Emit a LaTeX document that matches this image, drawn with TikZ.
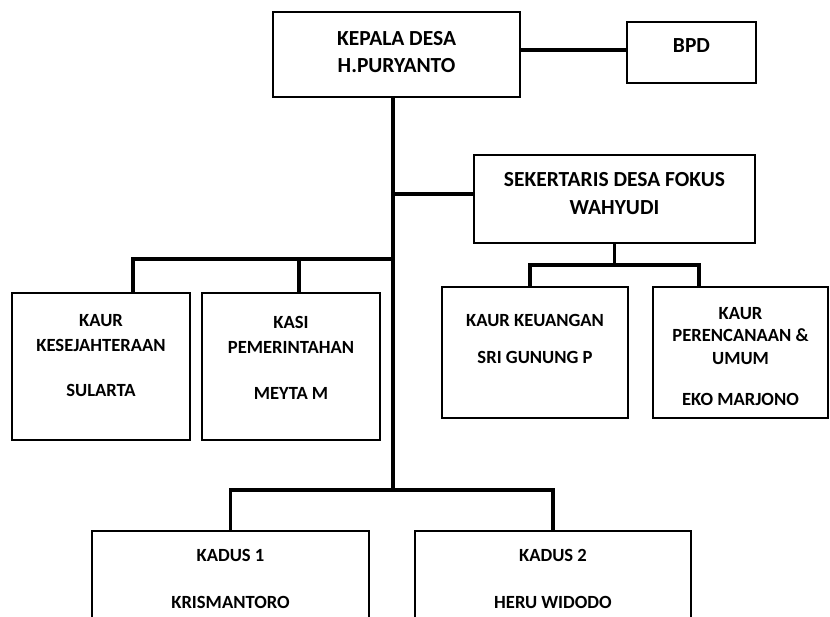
\documentclass[tikz,border=0pt]{standalone}
\usepackage{fontspec}
\setmainfont{Carlito}
\usepackage{tikz}
\usetikzlibrary{positioning}
\tikzstyle{unit} = [rectangle,
draw=black,
line width=2pt,
inner sep=0pt,
font=\fontsize{18.6}{25}\selectfont\bfseries]
\tikzstyle{head} = [unit,
font=\fontsize{21.5}{27}\selectfont\bfseries]
\tikzstyle{link} = [line width=3.2pt]
% box text: width, height, top gap, lines
\newcommand{\unittext}[4]{\parbox[c][#2][t]{#1}{\centering\vspace*{#3}#4}}

\begin{document}
\begin{tikzpicture}[x=1pt, y=-1pt]
        \useasboundingbox (0,0) rectangle (830,616);
        \clip (0,0) rectangle (830,616);
        \node (kepala) [head] at (396.5,54.5) {\unittext{247pt}{85pt}{19pt}{KEPALA DESA\\H.PURYANTO}};
        \node (bpd) [head] at (691.5,52.5) {\unittext{129pt}{61pt}{17pt}{BPD}};
        \node (sek) [head] at (614.5,199) {\unittext{281pt}{88pt}{17pt}{SEKERTARIS DESA FOKUS\\[1pt]WAHYUDI}};
        \node (kes) [unit] at (101,366.5) {\unittext{178pt}{147pt}{21pt}{KAUR\\KESEJAHTERAAN\\[20pt]SULARTA}};
        \node (kasi) [unit] at (291,366.5) {\unittext{178pt}{147pt}{23pt}{KASI\\PEMERINTAHAN\\[21pt]MEYTA M}};
        \node (keu) [unit] at (535,352.5) {\unittext{186pt}{131pt}{27pt}{KAUR KEUANGAN\\[12pt]SRI GUNUNG P}};
        \node (ren) [unit] at (740.5,352.5) {\unittext{175pt}{131pt}{20pt}{KAUR\\[-2.5pt]PERENCANAAN \&\\[-2.5pt]UMUM\\[16pt]EKO MARJONO}};
        \node (kadus1) [unit] at (230.5,575.5) {\unittext{277pt}{89pt}{18pt}{KADUS 1\\[22pt]KRISMANTORO}};
        \node (kadus2) [unit] at (553,575.5) {\unittext{276pt}{89pt}{18pt}{KADUS 2\\[22pt]HERU WIDODO}};

        \coordinate (trunk) at (393,490);
        \coordinate (lbus) at (393,259);
        \coordinate (sbus) at (614.5,265);

        \draw [link] (kepala.south -| trunk) -- (trunk);
        \draw [link] ([yshift=2.5pt]bpd.west) -- ([yshift=2.5pt]bpd.west -| kepala.east);
        \draw [link] ([yshift=5pt]sek.west) -- ([yshift=5pt]sek.west -| trunk);
        \draw [link] ([xshift=32pt]kes.north) |- (lbus);
        \draw [link] ([xshift=8pt]kasi.north) -- ([xshift=8pt]kasi.north |- lbus);
        \draw [link] (sek.south) -- (sbus);
        \draw [link] ([xshift=-5pt]keu.north) |- (sbus) -| ([xshift=-41.5pt]ren.north);
        \draw [link] (kadus1.north) |- (trunk) -| (kadus2.north);
    \end{tikzpicture}
\end{document}
